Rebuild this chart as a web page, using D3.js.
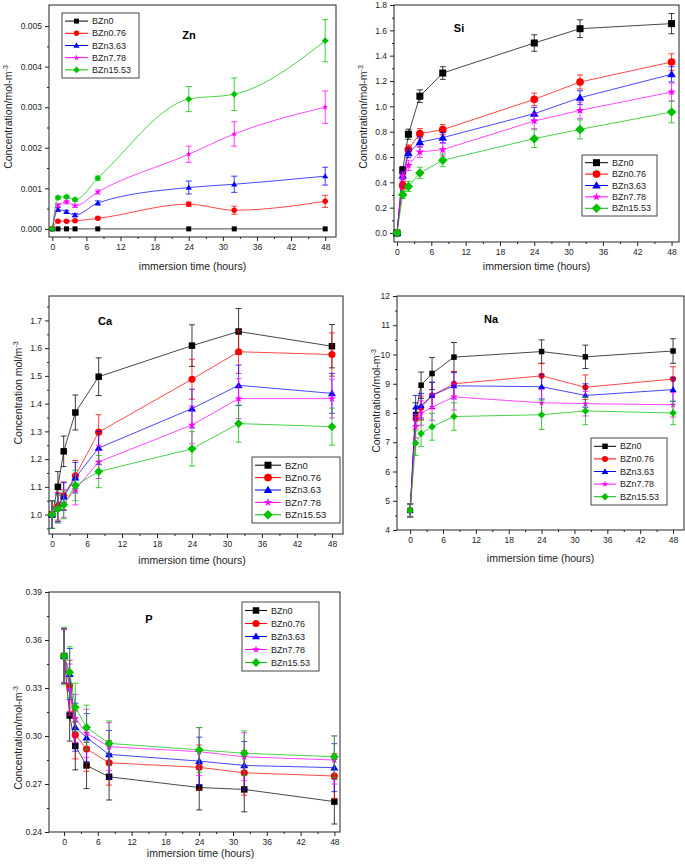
<!DOCTYPE html>
<html><head><meta charset="utf-8">
<script src="https://cdn.jsdelivr.net/npm/d3@7"></script>
<style>body{margin:0;background:#fff;} svg{display:block;font-family:"Liberation Sans",Arial,sans-serif;}</style>
</head><body><svg id="c" width="685" height="867"></svg>
<script>
// ---------------- DATA ----------------
const seriesNames = ["BZn0","BZn0.76","BZn3.63","BZn7.78","BZn15.53"];
const seriesColors = ["#000000","#ff0000","#0000ff","#ff00ff","#00c000"];
const seriesShapes = ["square","circle","triangle","star","diamond"];
const xTickValues = [0,6,12,18,24,30,36,42,48];
const xMinorValues = [3,9,15,21,27,33,39,45];
const xAxisTitle = "immersion time (hours)";

const hours = [0,1,2,4,8,24,32,48];
const hoursZn = [0,1,2.5,4,8,24,32,48];

const znValues = [
  [0,0,0,0,0,0,0,0],
  [0,0.00019,0.00019,0.0002,0.00026,0.00061,0.00046,0.00068],
  [0,0.00048,0.00042,0.00034,0.00064,0.00102,0.0011,0.0013],
  [0,0.00058,0.00066,0.00057,0.00091,0.00184,0.00234,0.003],
  [0,0.00077,0.00079,0.00072,0.00125,0.0032,0.00332,0.00464]
];
const znErrors = [
  [0,0,0,0,0,0,0,0],
  [0,0.00002,0.00002,0.00002,0.00003,0.00005,0.0001,0.00015],
  [0,0.00005,0.00004,0.00004,0.00005,0.00016,0.0002,0.00022],
  [0,0.00004,0.00004,0.00004,0.00005,0.0002,0.0003,0.0004],
  [0,0.00004,0.00004,0.00004,0.00005,0.00031,0.0004,0.00052]
];
const znYTicks = [0,0.001,0.002,0.003,0.004,0.005];

const siValues = [
  [0,0.495,0.78,1.08,1.263,1.5,1.613,1.653],
  [0,0.376,0.66,0.784,0.816,1.055,1.192,1.35],
  [0,0.455,0.63,0.718,0.753,0.942,1.068,1.253],
  [0,0.45,0.534,0.64,0.658,0.884,0.968,1.113],
  [0,0.303,0.368,0.474,0.574,0.745,0.818,0.955]
];
const siErrors = [
  [0,0.03,0.04,0.05,0.05,0.065,0.07,0.08],
  [0,0.03,0.035,0.04,0.04,0.05,0.055,0.065],
  [0,0.03,0.035,0.04,0.04,0.05,0.055,0.06],
  [0,0.03,0.04,0.045,0.05,0.06,0.065,0.07],
  [0,0.03,0.04,0.045,0.05,0.07,0.075,0.085]
];
const siYTicks = [0,0.2,0.4,0.6,0.8,1.0,1.2,1.4,1.6,1.8];

const caValues = [
  [1.0,1.1,1.228,1.368,1.497,1.609,1.66,1.607],
  [1.0,1.03,1.068,1.14,1.297,1.488,1.587,1.577],
  [1.0,1.025,1.065,1.133,1.24,1.382,1.466,1.437],
  [1.0,1.02,1.04,1.09,1.19,1.323,1.418,1.418],
  [1.0,1.02,1.035,1.105,1.155,1.237,1.328,1.317]
];
const caErrors = [
  [0.05,0.055,0.055,0.063,0.068,0.075,0.083,0.078],
  [0.05,0.05,0.05,0.055,0.063,0.072,0.078,0.078],
  [0.05,0.05,0.05,0.055,0.06,0.07,0.073,0.072],
  [0.05,0.05,0.05,0.055,0.06,0.068,0.072,0.07],
  [0.05,0.05,0.05,0.055,0.058,0.062,0.067,0.067]
];
const caYTicks = [1.0,1.1,1.2,1.3,1.4,1.5,1.6,1.7];

const naValues = [
  [4.67,7.95,8.95,9.35,9.91,10.1,9.92,10.12],
  [4.67,7.8,8.18,8.6,9.0,9.27,8.88,9.16],
  [4.67,8.2,8.25,8.6,8.93,8.9,8.6,8.8],
  [4.67,7.55,8.0,8.2,8.55,8.35,8.32,8.28],
  [4.67,6.97,7.3,7.53,7.88,7.94,8.07,8.0]
];
const naErrors = [
  [0.22,0.4,0.45,0.55,0.5,0.4,0.4,0.42],
  [0.22,0.35,0.4,0.45,0.42,0.42,0.42,0.42],
  [0.22,0.4,0.42,0.45,0.45,0.42,0.4,0.4],
  [0.22,0.4,0.42,0.45,0.45,0.45,0.42,0.42],
  [0.22,0.42,0.45,0.46,0.47,0.5,0.47,0.4]
];
const naYTicks = [4,5,6,7,8,9,10,11,12];

const pValues = [
  [0.35,0.3128,0.2938,0.2816,0.2745,0.2678,0.2666,0.259],
  [0.35,0.3314,0.3007,0.2919,0.2833,0.2804,0.277,0.275],
  [0.35,0.3387,0.3055,0.299,0.2885,0.2843,0.2816,0.2802],
  [0.35,0.329,0.311,0.3017,0.2933,0.2902,0.287,0.285],
  [0.35,0.3398,0.318,0.3053,0.2954,0.2913,0.2892,0.2871]
];
const pErrors = [
  [0.017,0.016,0.015,0.0145,0.0145,0.014,0.014,0.014],
  [0.017,0.016,0.015,0.014,0.014,0.014,0.014,0.014],
  [0.017,0.016,0.015,0.015,0.015,0.015,0.015,0.015],
  [0.017,0.016,0.015,0.015,0.015,0.015,0.015,0.015],
  [0.018,0.016,0.015,0.014,0.014,0.014,0.014,0.013]
];
const pYTicks = [0.24,0.27,0.30,0.33,0.36,0.39];

// ---------------- DRAWING ----------------
const svg = d3.select("#c");

function markerPath(shape, s) {
  const p = d3.path();
  if (shape === "square") { p.rect(-s/2, -s/2, s, s); }
  else if (shape === "circle") { p.arc(0, 0, s*0.55, 0, 2*Math.PI); }
  else if (shape === "triangle") {
    const w = s*0.62, h = s*0.55;
    p.moveTo(0, -h*1.1); p.lineTo(w, h*0.8); p.lineTo(-w, h*0.8); p.closePath();
  } else if (shape === "star") {
    const ro = s*0.62, ri = s*0.25;
    for (let i = 0; i < 10; i++) {
      const r = i % 2 ? ri : ro, a = -Math.PI/2 + i*Math.PI/5;
      if (i === 0) p.moveTo(r*Math.cos(a), r*Math.sin(a)); else p.lineTo(r*Math.cos(a), r*Math.sin(a));
    }
    p.closePath();
  } else if (shape === "diamond") {
    const r = s*0.68;
    p.moveTo(0,-r); p.lineTo(r,0); p.lineTo(0,r); p.lineTo(-r,0); p.closePath();
  }
  return p.toString();
}

function panel(cfg) {
  const g = svg.append("g");
  const x = d3.scaleLinear().domain(cfg.xDomain).range([cfg.left, cfg.right]);
  const y = d3.scaleLinear().domain(cfg.yDomain).range([cfg.bottom, cfg.top]);

  // axes
  g.append("g").attr("transform", `translate(0,${cfg.bottom})`)
    .call(d3.axisBottom(x).tickValues(xTickValues).tickSize(4).tickPadding(3).tickFormat(d3.format("d")));
  g.append("g").attr("transform", `translate(0,${cfg.bottom})`)
    .call(d3.axisBottom(x).tickValues(xMinorValues).tickSize(2).tickFormat(""));
  g.append("g").attr("transform", `translate(${cfg.left},0)`)
    .call(d3.axisLeft(y).tickValues(cfg.yTicks).tickSize(4).tickPadding(3).tickFormat(d3.format(cfg.yFormat)));
  g.append("g").attr("transform", `translate(${cfg.left},0)`)
    .call(d3.axisLeft(y).tickValues(cfg.yMinor).tickSize(2).tickFormat(""));
  g.selectAll(".domain").remove();
  g.selectAll(".tick text").attr("font-size", 8.5).attr("fill", "#222")
    .attr("font-family", '"Liberation Sans",Arial,sans-serif');
  g.selectAll(".tick line").attr("stroke", "#222");

  // frame
  g.append("rect").attr("x", cfg.left).attr("y", cfg.top)
    .attr("width", cfg.right - cfg.left).attr("height", cfg.bottom - cfg.top)
    .attr("fill", "none").attr("stroke", "#222").attr("stroke-width", 1);

  // titles
  g.append("text").attr("x", (cfg.left + cfg.right)/2 + cfg.xTitleDx).attr("y", cfg.xTitleY)
    .attr("text-anchor", "middle").attr("font-size", 10.5).attr("fill", "#222").text(xAxisTitle);
  const yt = g.append("text").attr("transform", `translate(${cfg.yTitleX},${cfg.yTitleY}) rotate(-90)`)
    .attr("text-anchor", "middle").attr("font-size", 10.5).attr("fill", "#222");
  yt.append("tspan").text(cfg.yTitle);
  yt.append("tspan").attr("font-size", 7).attr("dy", -4).text("-3");
  g.append("text").attr("x", cfg.labelX).attr("y", cfg.labelY).attr("font-size", 11)
    .attr("font-weight", "bold").attr("text-anchor", "middle").text(cfg.label);

  // series
  const line = d3.line().x(d => x(d[0])).y(d => y(d[1])).curve(cfg.curve);
  cfg.values.forEach((vals, si) => {
    const color = seriesColors[si];
    const pts = vals.map((v, i) => [cfg.times[i], v, cfg.errors[si][i]]);
    const sg = g.append("g");
    sg.append("path").attr("d", line(pts)).attr("fill", "none")
      .attr("stroke", color).attr("stroke-width", 0.9).attr("stroke-opacity", 0.8);
    const eb = sg.selectAll(".eb").data(pts.filter(d => d[2] > 0)).join("g")
      .attr("stroke", color).attr("stroke-width", 0.9).attr("stroke-opacity", 0.85);
    eb.append("line").attr("x1", d => x(d[0])).attr("x2", d => x(d[0]))
      .attr("y1", d => y(d[1] - d[2])).attr("y2", d => y(d[1] + d[2]));
    eb.append("line").attr("x1", d => x(d[0]) - cfg.cap).attr("x2", d => x(d[0]) + cfg.cap)
      .attr("y1", d => y(d[1] + d[2])).attr("y2", d => y(d[1] + d[2]));
    eb.append("line").attr("x1", d => x(d[0]) - cfg.cap).attr("x2", d => x(d[0]) + cfg.cap)
      .attr("y1", d => y(d[1] - d[2])).attr("y2", d => y(d[1] - d[2]));
    sg.selectAll(".mk").data(pts).join("path")
      .attr("transform", d => `translate(${x(d[0])},${y(d[1])})`)
      .attr("d", markerPath(seriesShapes[si], cfg.marker)).attr("fill", color);
  });

  // legend
  const L = cfg.legend;
  const lg = g.append("g");
  lg.append("rect").attr("x", L.x).attr("y", L.y).attr("width", L.w).attr("height", L.h)
    .attr("fill", "#fff").attr("stroke", "#444").attr("stroke-width", 1);
  const rowH = (L.h - 4) / seriesNames.length;
  seriesNames.forEach((name, i) => {
    const cy = L.y + 2 + rowH * (i + 0.5);
    lg.append("line").attr("x1", L.x + 3).attr("x2", L.x + 3 + L.line).attr("y1", cy).attr("y2", cy)
      .attr("stroke", seriesColors[i]).attr("stroke-width", 1);
    lg.append("path").attr("transform", `translate(${L.x + 3 + L.line/2},${cy})`)
      .attr("d", markerPath(seriesShapes[i], L.marker)).attr("fill", seriesColors[i]);
    lg.append("text").attr("x", L.x + 7 + L.line).attr("y", cy).attr("dy", "0.35em")
      .attr("font-size", L.font).attr("fill", "#222").text(name);
  });
}

panel({
  left: 49, right: 336, top: 5, bottom: 237,
  xDomain: [-0.58, 49.9], yDomain: [-0.0002, 0.00552],
  yTicks: znYTicks, yMinor: [0.0005,0.0015,0.0025,0.0035,0.0045], yFormat: ".3f",
  times: hoursZn, values: znValues, errors: znErrors, curve: d3.curveMonotoneX,
  marker: 5, cap: 3,
  label: "Zn", labelX: 189, labelY: 39,
  xTitleDx: 0, xTitleY: 270, yTitle: "Concentration/mol-m", yTitleX: 12, yTitleY: 117,
  legend: {x: 62, y: 13, w: 77, h: 65, line: 23, marker: 5, font: 9}
});
panel({
  left: 394, right: 679, top: 5, bottom: 242,
  xDomain: [-0.52, 49.3], yDomain: [-0.071, 1.8],
  yTicks: siYTicks, yMinor: d3.range(0.1, 1.8, 0.2), yFormat: ".1f",
  times: hours, values: siValues, errors: siErrors, curve: d3.curveLinear,
  marker: 7, cap: 3,
  label: "Si", labelX: 459, labelY: 32,
  xTitleDx: 0, xTitleY: 270, yTitle: "Concentration/mol-m", yTitleX: 367, yTitleY: 117,
  legend: {x: 582, y: 155, w: 75, h: 61, line: 23, marker: 7, font: 9}
});
panel({
  left: 49, right: 343, top: 296, bottom: 534,
  xDomain: [-0.52, 49.9], yDomain: [0.93, 1.788],
  yTicks: caYTicks, yMinor: [0.95,1.05,1.15,1.25,1.35,1.45,1.55,1.65,1.75], yFormat: ".1f",
  times: hours, values: caValues, errors: caErrors, curve: d3.curveLinear,
  marker: 6.5, cap: 3,
  label: "Ca", labelX: 105, labelY: 325,
  xTitleDx: -4, xTitleY: 564, yTitle: "Concentration mol/m", yTitleX: 22, yTitleY: 393,
  legend: {x: 252, y: 457, w: 88, h: 66, line: 26, marker: 7, font: 9.5}
});
panel({
  left: 397, right: 684, top: 296, bottom: 530,
  xDomain: [-2.4, 50], yDomain: [4, 12],
  yTicks: naYTicks, yMinor: [4.5,5.5,6.5,7.5,8.5,9.5,10.5,11.5], yFormat: "d",
  times: hours, values: naValues, errors: naErrors, curve: d3.curveLinear,
  marker: 5.5, cap: 3,
  label: "Na", labelX: 491, labelY: 323,
  xTitleDx: 0, xTitleY: 562, yTitle: "Concentration/mol-m", yTitleX: 380, yTitleY: 401,
  legend: {x: 591, y: 438, w: 76, h: 67, line: 22, marker: 5.5, font: 9}
});
panel({
  left: 49, right: 340, top: 592, bottom: 832,
  xDomain: [-2.67, 49], yDomain: [0.24, 0.39],
  yTicks: pYTicks, yMinor: [0.255,0.285,0.315,0.345,0.375], yFormat: ".2f",
  times: hours, values: pValues, errors: pErrors, curve: d3.curveLinear,
  marker: 6.5, cap: 3,
  label: "P", labelX: 149, labelY: 623,
  xTitleDx: 6, xTitleY: 857, yTitle: "Concentration/mol-m", yTitleX: 22, yTitleY: 738,
  legend: {x: 242, y: 602, w: 77, h: 69, line: 22, marker: 6.5, font: 9}
});
</script>
</body></html>
